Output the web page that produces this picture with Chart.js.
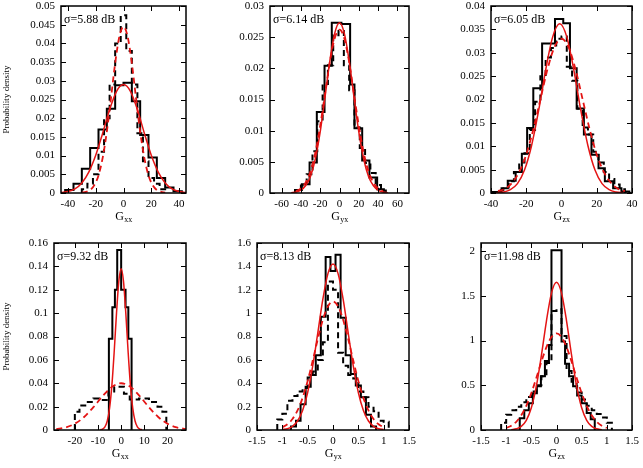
<!DOCTYPE html>
<html>
<head>
<meta charset="utf-8">
<script src="https://cdn.jsdelivr.net/npm/chart.js@4.4.0/dist/chart.umd.min.js"></script>
<style>
  body { margin: 0; background: #fff; width: 643px; height: 468px; position: relative; overflow: hidden; }
  canvas { position: absolute; }
</style>
</head>
<body>
<script>
// ---------- data ----------
const axisNames = ['xx', 'yx', 'zx', 'xx', 'yx', 'zx'];
const sigmaLabels = ['σ=5.88 dB', 'σ=6.14 dB', 'σ=6.05 dB', 'σ=9.32 dB', 'σ=8.13 dB', 'σ=11.98 dB'];

// panel 1 : Gxx (top)
const p1XTicks = [-40, -20, 0, 20, 40];
const p1YTicks = [0, 0.005, 0.01, 0.015, 0.02, 0.025, 0.03, 0.035, 0.04, 0.045, 0.05];
const p1SolidEdges = [-42, -36, -30, -24, -18, -12, -6, 0, 6, 12, 18, 24, 30, 36, 42];
const p1Solid = [0.0008, 0.0025, 0.0065, 0.012, 0.017, 0.0225, 0.0288, 0.0295, 0.0245, 0.0155, 0.0095, 0.004, 0.0015, 0.0005];
const p1DashEdges = [-30, -26, -22, -18, -14, -10, -6, -2, 2, 6, 10, 14, 18, 22, 26, 30];
const p1Dash = [0.001, 0.0025, 0.005, 0.011, 0.02, 0.029, 0.04, 0.0475, 0.038, 0.029, 0.016, 0.0085, 0.004, 0.0025, 0.001];
const p1FitX = [-45, -40, -35, -30, -25, -20, -15, -10, -5, 0, 5, 10, 15, 20, 25, 30, 35, 40, 45];
const p1Fit = [0.00014, 0.0004, 0.0011, 0.0027, 0.0056, 0.0101, 0.016, 0.0223, 0.0272, 0.029, 0.0272, 0.0223, 0.016, 0.0101, 0.0056, 0.0027, 0.0011, 0.0004, 0.00014];
const p1FitDashX = [-30, -27, -24, -21, -18, -15, -12, -9, -6, -3, 0, 3, 6, 9, 12, 15, 18, 21, 24, 27, 30];
const p1FitDash = [0.0001, 0.0003, 0.0008, 0.0021, 0.0047, 0.0094, 0.0164, 0.0254, 0.0347, 0.0418, 0.0445, 0.0418, 0.0347, 0.0254, 0.0164, 0.0094, 0.0047, 0.0021, 0.0008, 0.0003, 0.0001];

// panel 2 : Gyx (top)
const p2XTicks = [-60, -40, -20, 0, 20, 40, 60];
const p2YTicks = [0, 0.005, 0.01, 0.015, 0.02, 0.025, 0.03];
const p2SolidEdges = [-46, -39, -31, -23.5, -15.5, -8, 2, 11, 15.5, 23.5, 31, 39, 46];
const p2Solid = [0.0005, 0.0014, 0.0049, 0.013, 0.0204, 0.0273, 0.0271, 0.0174, 0.0104, 0.0052, 0.0025, 0.0006];
const p2DashEdges = [-46, -40, -34, -28, -23, -17.5, -12, -6.5, -1, 4.5, 10, 15.5, 21, 26.5, 32, 37.5, 43, 48];
const p2Dash = [0.0005, 0.0012, 0.003, 0.0067, 0.0115, 0.0175, 0.0205, 0.0253, 0.026, 0.0205, 0.0165, 0.0105, 0.0072, 0.0048, 0.0032, 0.0013, 0.0004];
const p2FitX = [-50, -45, -40, -35, -30, -25, -20, -15, -10, -5, 0, 5, 10, 15, 20, 25, 30, 35, 40, 45, 50];
const p2Fit = [0.00005, 0.00016, 0.00046, 0.0012, 0.0027, 0.0055, 0.0098, 0.0154, 0.0212, 0.0256, 0.0273, 0.0256, 0.0212, 0.0154, 0.0098, 0.0055, 0.0027, 0.0012, 0.00046, 0.00016, 0.00005];
const p2FitDashX = [-45, -40, -35, -30, -25, -20, -15, -10, -5, 0, 5, 10, 15, 20, 25, 30, 35, 40, 45];
const p2FitDash = [0.0003, 0.00075, 0.0017, 0.0035, 0.0065, 0.0108, 0.0159, 0.021, 0.0248, 0.0262, 0.0248, 0.021, 0.0159, 0.0108, 0.0065, 0.0035, 0.0017, 0.00075, 0.0003];

// panel 3 : Gzx (top)
const p3XTicks = [-40, -20, 0, 20, 40];
const p3YTicks = [0, 0.005, 0.01, 0.015, 0.02, 0.025, 0.03, 0.035, 0.04];
const p3SolidEdges = [-38.5, -34, -30.5, -26, -22.5, -19.5, -16, -11, -3.7, 1, 4.8, 8.6, 12.7, 17, 21, 24.6, 29.3, 34, 38.5];
const p3Solid = [0.0002, 0.001, 0.0026, 0.0045, 0.0084, 0.0139, 0.0224, 0.032, 0.0372, 0.0363, 0.0267, 0.0181, 0.0125, 0.0082, 0.0053, 0.0025, 0.001, 0.0003];
const p3DashEdges = [-39, -36, -33, -30, -27, -24, -21, -18, -15, -12, -9, -6, -3, 0, 3, 6, 9, 12, 15, 18, 21, 24, 27, 30, 33, 36, 39];
const p3Dash = [0.0002, 0.0006, 0.0012, 0.0025, 0.0045, 0.0065, 0.0085, 0.0135, 0.0195, 0.025, 0.029, 0.031, 0.033, 0.0335, 0.027, 0.024, 0.018, 0.014, 0.0125, 0.0088, 0.0065, 0.0045, 0.003, 0.0018, 0.0008, 0.0002];
const p3FitX = [-37, -33, -29, -25, -21, -17, -13, -9, -5, -1, 3, 7, 11, 15, 19, 23, 27, 31, 35];
const p3Fit = [0.00005, 0.0002, 0.0007, 0.002, 0.0049, 0.0101, 0.0176, 0.0263, 0.0334, 0.0362, 0.0334, 0.0263, 0.0176, 0.0101, 0.0049, 0.002, 0.0007, 0.0002, 0.00005];
const p3FitDashX = [-36, -32, -28, -24, -20, -16, -12, -8, -4, 0, 4, 8, 12, 16, 20, 24, 28, 32, 36];
const p3FitDash = [0.0004, 0.0009, 0.0022, 0.0045, 0.0082, 0.0136, 0.02, 0.0264, 0.0312, 0.033, 0.0312, 0.0264, 0.02, 0.0136, 0.0082, 0.0045, 0.0022, 0.0009, 0.0004];

// panel 4 : Gxx (bottom)
const p4XTicks = [-20, -10, 0, 10, 20];
const p4YTicks = [0, 0.02, 0.04, 0.06, 0.08, 0.1, 0.12, 0.14, 0.16];
const p4SolidEdges = [-5.3, -3.8, -2.7, -1.7, 0, 1.9, 3.1, 4.5];
const p4Solid = [0.078, 0.105, 0.12, 0.154, 0.12, 0.105, 0.078];
const p4DashEdges = [-20, -18, -15.5, -12, -9.5, -5.5, -3, 1.2, 3.7, 7.7, 12, 15.7, 17.8, 19.5];
const p4Dash = [0.0157, 0.021, 0.024, 0.027, 0.0257, 0.033, 0.037, 0.031, 0.026, 0.027, 0.024, 0.02, 0.0157];
const p4FitX = [-9, -8, -7, -6, -5, -4, -3, -2, -1, 0, 1, 2, 3, 4, 5, 6, 7, 8, 9];
const p4Fit = [0.0002, 0.0008, 0.0027, 0.0077, 0.0187, 0.0384, 0.0672, 0.1002, 0.1274, 0.138, 0.1274, 0.1002, 0.0672, 0.0384, 0.0187, 0.0077, 0.0027, 0.0008, 0.0002];
const p4FitDashX = [-28, -24, -20, -16, -12, -8, -4, 0, 4, 8, 12, 16, 20, 24, 28];
const p4FitDash = [0.0008, 0.0022, 0.0054, 0.0111, 0.0195, 0.029, 0.0369, 0.04, 0.0369, 0.029, 0.0195, 0.0111, 0.0054, 0.0022, 0.0008];

// panel 5 : Gyx (bottom)
const p5XTicks = [-1.5, -1, -0.5, 0, 0.5, 1, 1.5];
const p5YTicks = [0, 0.2, 0.4, 0.6, 0.8, 1, 1.2, 1.4, 1.6];
const p5SolidEdges = [-0.83, -0.73, -0.64, -0.54, -0.44, -0.34, -0.24, -0.145, -0.05, 0.05, 0.15, 0.25, 0.35, 0.45, 0.55, 0.65, 0.75, 0.85];
const p5Solid = [0.03, 0.08, 0.22, 0.37, 0.47, 0.64, 0.97, 1.48, 1.36, 1.5, 0.96, 0.64, 0.48, 0.38, 0.28, 0.13, 0.03];
const p5DashEdges = [-1.1, -1, -0.9, -0.8, -0.7, -0.6, -0.5, -0.4, -0.3, -0.2, -0.1, 0, 0.1, 0.2, 0.3, 0.4, 0.5, 0.6, 0.7, 0.8, 0.9, 1, 1.1];
const p5Dash = [0.09, 0.14, 0.25, 0.29, 0.33, 0.36, 0.45, 0.5, 0.6, 0.75, 1.27, 1.2, 0.66, 0.55, 0.47, 0.44, 0.33, 0.28, 0.2, 0.16, 0.08, 0.07];
const p5FitX = [-1, -0.9, -0.8, -0.7, -0.6, -0.5, -0.4, -0.3, -0.2, -0.1, 0, 0.1, 0.2, 0.3, 0.4, 0.5, 0.6, 0.7, 0.8, 0.9, 1];
const p5Fit = [0.004, 0.011, 0.031, 0.077, 0.167, 0.321, 0.548, 0.831, 1.119, 1.338, 1.42, 1.338, 1.119, 0.831, 0.548, 0.321, 0.167, 0.077, 0.031, 0.011, 0.004];
const p5FitDash = [0.023, 0.049, 0.094, 0.167, 0.275, 0.42, 0.594, 0.778, 0.943, 1.058, 1.1, 1.058, 0.943, 0.778, 0.594, 0.42, 0.275, 0.167, 0.094, 0.049, 0.023];

// panel 6 : Gzx (bottom)
const p6XTicks = [-1.5, -1, -0.5, 0, 0.5, 1, 1.5];
const p6YTicks = [0, 0.5, 1, 1.5, 2];
const p6SolidEdges = [-0.73, -0.64, -0.55, -0.47, -0.39, -0.31, -0.23, -0.15, -0.1, 0.1, 0.17, 0.25, 0.33, 0.41, 0.5, 0.6, 0.68, 0.76];
const p6Solid = [0.13, 0.22, 0.3, 0.41, 0.49, 0.6, 0.77, 0.95, 2.01, 0.99, 0.74, 0.6, 0.49, 0.385, 0.3, 0.19, 0.12];
const p6DashEdges = [-1.1, -1, -0.9, -0.8, -0.7, -0.6, -0.5, -0.4, -0.3, -0.2, -0.1, 0, 0.1, 0.2, 0.3, 0.4, 0.5, 0.6, 0.7, 0.8, 0.9, 1, 1.1];
const p6Dash = [0.08, 0.17, 0.22, 0.26, 0.31, 0.37, 0.43, 0.5, 0.6, 0.75, 1.33, 1.35, 1.05, 0.66, 0.54, 0.42, 0.34, 0.27, 0.22, 0.18, 0.14, 0.08];
const p6FitX = [-0.9, -0.8, -0.7, -0.6, -0.5, -0.4, -0.3, -0.2, -0.1, 0, 0.1, 0.2, 0.3, 0.4, 0.5, 0.6, 0.7, 0.8, 0.9];
const p6Fit = [0.0035, 0.013, 0.04, 0.108, 0.248, 0.49, 0.833, 1.218, 1.53, 1.65, 1.53, 1.218, 0.833, 0.49, 0.248, 0.108, 0.04, 0.013, 0.0035];
const p6FitDashX = [-1, -0.9, -0.8, -0.7, -0.6, -0.5, -0.4, -0.3, -0.2, -0.1, 0, 0.1, 0.2, 0.3, 0.4, 0.5, 0.6, 0.7, 0.8, 0.9, 1];
const p6FitDash = [0.023, 0.048, 0.092, 0.164, 0.27, 0.413, 0.583, 0.764, 0.926, 1.039, 1.08, 1.039, 0.926, 0.764, 0.583, 0.413, 0.27, 0.164, 0.092, 0.048, 0.023];

// ---------- layout ----------
const RED = 'rgb(228,20,20)';
const SERIF = '"Liberation Serif", "DejaVu Serif", serif';
const padL = 60, padT = 15, padR = 15, padB = 45;

const panels = [
  { box: [61, 6, 186, 193], x: [-45, 45], y: [0, 0.05], xt: p1XTicks, yt: p1YTicks,
    se: p1SolidEdges, s: p1Solid, de: p1DashEdges, d: p1Dash, fx: p1FitX, f: p1Fit, fdx: p1FitDashX, fd: p1FitDash, ylab: true },
  { box: [270, 6, 409, 193], x: [-72, 72], y: [0, 0.03], xt: p2XTicks, yt: p2YTicks,
    se: p2SolidEdges, s: p2Solid, de: p2DashEdges, d: p2Dash, fx: p2FitX, f: p2Fit, fdx: p2FitDashX, fd: p2FitDash },
  { box: [491, 6, 632, 193], x: [-40, 40], y: [0, 0.04], xt: p3XTicks, yt: p3YTicks,
    se: p3SolidEdges, s: p3Solid, de: p3DashEdges, d: p3Dash, fx: p3FitX, f: p3Fit, fdx: p3FitDashX, fd: p3FitDash },
  { box: [54, 243, 186, 430], x: [-29, 28], y: [0, 0.16], xt: p4XTicks, yt: p4YTicks,
    se: p4SolidEdges, s: p4Solid, de: p4DashEdges, d: p4Dash, fx: p4FitX, f: p4Fit, fdx: p4FitDashX, fd: p4FitDash, ylab: true },
  { box: [257, 243, 409, 430], x: [-1.5, 1.5], y: [0, 1.6], xt: p5XTicks, yt: p5YTicks,
    se: p5SolidEdges, s: p5Solid, de: p5DashEdges, d: p5Dash, fx: p5FitX, f: p5Fit, fdx: p5FitX, fd: p5FitDash },
  { box: [481, 243, 632, 430], x: [-1.5, 1.5], y: [0, 2.09], xt: p6XTicks, yt: p6YTicks,
    se: p6SolidEdges, s: p6Solid, de: p6DashEdges, d: p6Dash, fx: p6FitX, f: p6Fit, fdx: p6FitDashX, fd: p6FitDash }
];

function pts(xs, ys) {
  return xs.map((x, i) => ({ x: x, y: ys[i] }));
}

// histogram outline: step starts from the baseline at the first edge
function hist(edges, heights) {
  const out = [{ x: edges[0], y: 0 }];
  edges.forEach((e, i) => out.push({ x: e, y: i < heights.length ? heights[i] : 0 }));
  return out;
}

function framePlugin(p, idx) {
  return {
    id: 'frame' + idx,
    afterDraw(chart) {
      const ctx = chart.ctx, a = chart.chartArea;
      const xs = chart.scales.x, ys = chart.scales.y;
      ctx.save();
      ctx.strokeStyle = '#000';
      ctx.lineWidth = 1;
      ctx.beginPath();
      xs.ticks.forEach(t => {
        const px = Math.round(xs.getPixelForValue(t.value)) + 0.5;
        ctx.moveTo(px, a.bottom); ctx.lineTo(px, a.bottom - 5);
        ctx.moveTo(px, a.top); ctx.lineTo(px, a.top + 5);
      });
      ys.ticks.forEach(t => {
        const py = Math.round(ys.getPixelForValue(t.value)) + 0.5;
        ctx.moveTo(a.left, py); ctx.lineTo(a.left + 5, py);
        ctx.moveTo(a.right, py); ctx.lineTo(a.right - 5, py);
      });
      ctx.stroke();
      ctx.lineWidth = 1.5;
      ctx.strokeRect(a.left, a.top, a.right - a.left, a.bottom - a.top);

      ctx.fillStyle = '#000';
      ctx.textBaseline = 'middle';
      ctx.textAlign = 'left';
      ctx.font = '12px ' + SERIF;
      ctx.fillText(sigmaLabels[idx], a.left + 3, a.top + 14);

      // axis name: G with subscript
      const sub = axisNames[idx];
      ctx.font = '12px ' + SERIF;
      const wG = ctx.measureText('G').width;
      ctx.font = '8px ' + SERIF;
      const wS = ctx.measureText(sub).width;
      const cx = (a.left + a.right) / 2 - (wG + wS) / 2;
      const cy = a.bottom + 24;
      ctx.font = '12px ' + SERIF;
      ctx.fillText('G', cx, cy);
      ctx.font = '8px ' + SERIF;
      ctx.fillText(sub, cx + wG + 0.5, cy + 3);

      if (p.ylab) {
        ctx.translate(a.left + (7 - p.box[0]), (a.top + a.bottom) / 2);
        ctx.rotate(-Math.PI / 2);
        ctx.textAlign = 'center';
        ctx.font = '9px ' + SERIF;
        ctx.fillText('Probability density', 0, 0);
      }
      ctx.restore();
    }
  };
}

panels.forEach((p, idx) => {
  const w = p.box[2] - p.box[0] + padL + padR;
  const h = p.box[3] - p.box[1] + padT + padB;
  const c = document.createElement('canvas');
  c.width = w;
  c.height = h;
  c.style.left = (p.box[0] - padL) + 'px';
  c.style.top = (p.box[1] - padT) + 'px';
  document.body.appendChild(c);

  const tickFont = { family: SERIF, size: 11 };
  new Chart(c, {
    type: 'line',
    data: {
      datasets: [
        { data: pts(p.fx, p.f), borderColor: RED, borderWidth: 1.5, pointRadius: 0, cubicInterpolationMode: 'monotone' },
        { data: pts(p.fdx, p.fd), borderColor: RED, borderWidth: 1.8, borderDash: [6, 4], pointRadius: 0, cubicInterpolationMode: 'monotone' },
        { data: hist(p.se, p.s), borderColor: '#000', borderWidth: 2, stepped: true, pointRadius: 0 },
        { data: hist(p.de, p.d), borderColor: '#000', borderWidth: 2, borderDash: [6, 4], stepped: true, pointRadius: 0 }
      ]
    },
    options: {
      responsive: false,
      animation: false,
      devicePixelRatio: 1,
      events: [],
      layout: { padding: { left: 0, top: padT, right: padR, bottom: 0 } },
      plugins: { legend: { display: false }, tooltip: { enabled: false } },
      scales: {
        x: {
          type: 'linear', min: p.x[0], max: p.x[1],
          afterBuildTicks: s => { s.ticks = p.xt.map(v => ({ value: v })); },
          afterFit: s => { s.height = padB; },
          grid: { display: false, drawTicks: false },
          border: { display: false },
          ticks: { padding: 5, font: tickFont, color: '#000', maxRotation: 0, autoSkip: false, callback: v => String(v) }
        },
        y: {
          type: 'linear', min: p.y[0], max: p.y[1],
          afterBuildTicks: s => { s.ticks = p.yt.map(v => ({ value: v })); },
          afterFit: s => { s.width = padL; },
          grid: { display: false, drawTicks: false },
          border: { display: false },
          ticks: { padding: 6, font: tickFont, color: '#000', autoSkip: false, callback: v => String(v) }
        }
      }
    },
    plugins: [framePlugin(p, idx)]
  });
});
</script>
</body>
</html>
